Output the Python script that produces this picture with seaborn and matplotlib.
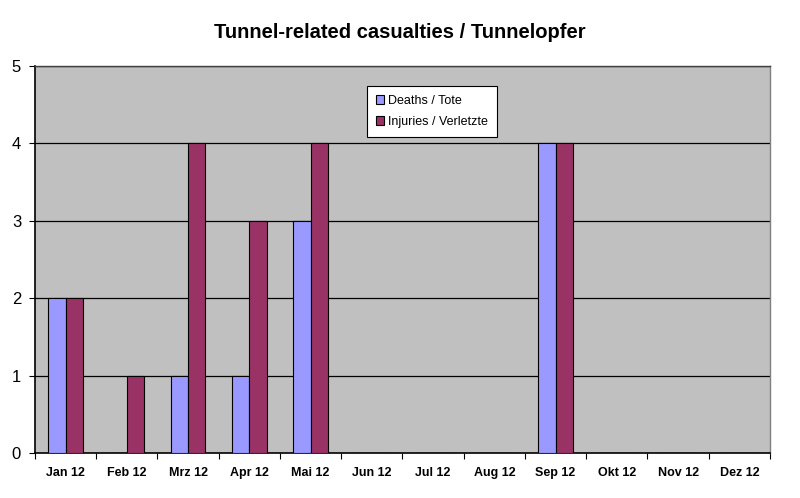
import matplotlib
matplotlib.use("Agg")
import matplotlib.pyplot as plt
import seaborn as sns
import pandas as pd

months = ["Jan 12", "Feb 12", "Mrz 12", "Apr 12", "Mai 12", "Jun 12",
          "Jul 12", "Aug 12", "Sep 12", "Okt 12", "Nov 12", "Dez 12"]
deaths = [2, 0, 1, 1, 3, 0, 0, 0, 4, 0, 0, 0]
injuries = [2, 1, 4, 3, 4, 0, 0, 0, 4, 0, 0, 0]
series_names = ["Deaths / Tote", "Injuries / Verletzte"]
yticks = [0, 1, 2, 3, 4, 5]

df = pd.DataFrame({
    "month": months * 2,
    "value": deaths + injuries,
    "series": [series_names[0]] * len(months) + [series_names[1]] * len(months),
})

sns.set_style("white")
plt.rcParams["font.family"] = ["Liberation Sans", "DejaVu Sans"]
plt.rcParams["text.color"] = "black"
plt.rcParams["xtick.color"] = "black"
plt.rcParams["ytick.color"] = "black"
plt.rcParams["xtick.labelcolor"] = "black"
plt.rcParams["ytick.labelcolor"] = "black"

fig = plt.figure(figsize=(8.0, 4.98), dpi=100)
ax = fig.add_axes([35 / 800, 1 - 453 / 498, (770 - 35) / 800, (453 - 66) / 498])
ax.set_facecolor("#C0C0C0")

sns.barplot(data=df, x="month", y="value", hue="series", order=months,
            hue_order=series_names, palette=["#9999FF", "#993366"], saturation=1,
            width=0.56, edgecolor="black", linewidth=0.8, ax=ax, zorder=3)

ax.set_ylim(0, 5)
ax.set_xlim(-0.5, len(months) - 0.5)
ax.set_yticks(yticks)
ax.set_yticklabels([str(v) for v in yticks], fontsize=12)
for v in yticks[1:]:
    ax.axhline(v, color="black", linewidth=0.9, zorder=1)

ax.set_xticks(range(len(months)))
ax.set_xticklabels(months, fontsize=9, fontweight="bold")
ax.tick_params(axis="x", which="major", length=0, pad=10)
ax.set_xticks([i - 0.5 for i in range(len(months) + 1)], minor=True)
ax.tick_params(axis="x", which="minor", length=4, width=0.8, direction="out", bottom=True)
ax.tick_params(axis="y", length=4, width=0.8, direction="out", left=True, pad=6)
ax.set_xlabel("")
ax.set_ylabel("")

for side in ["left", "bottom"]:
    ax.spines[side].set_color("black")
    ax.spines[side].set_linewidth(1.2)
ax.spines["top"].set_color("#404040")
ax.spines["right"].set_color("#808080")
ax.spines["top"].set_linewidth(1.0)
ax.spines["right"].set_linewidth(1.0)

leg = ax.legend(loc="upper left", bbox_to_anchor=((367 - 35) / 735, 1 - (86 - 66) / 387),
                frameon=True, fancybox=False, edgecolor="black", facecolor="white",
                framealpha=1, fontsize=9, handlelength=0.7, handleheight=0.7,
                handletextpad=0.3, labelspacing=0.75, borderpad=0.7, borderaxespad=0)
leg.get_frame().set_linewidth(0.8)
for t in leg.get_texts():
    t.set_color("black")

fig.text(400 / 800, 1 - 32 / 498, "Tunnel-related casualties / Tunnelopfer",
         ha="center", va="center", fontsize=14.5, fontweight="bold", color="black")

fig.savefig("out.png", dpi=100, facecolor="white")
